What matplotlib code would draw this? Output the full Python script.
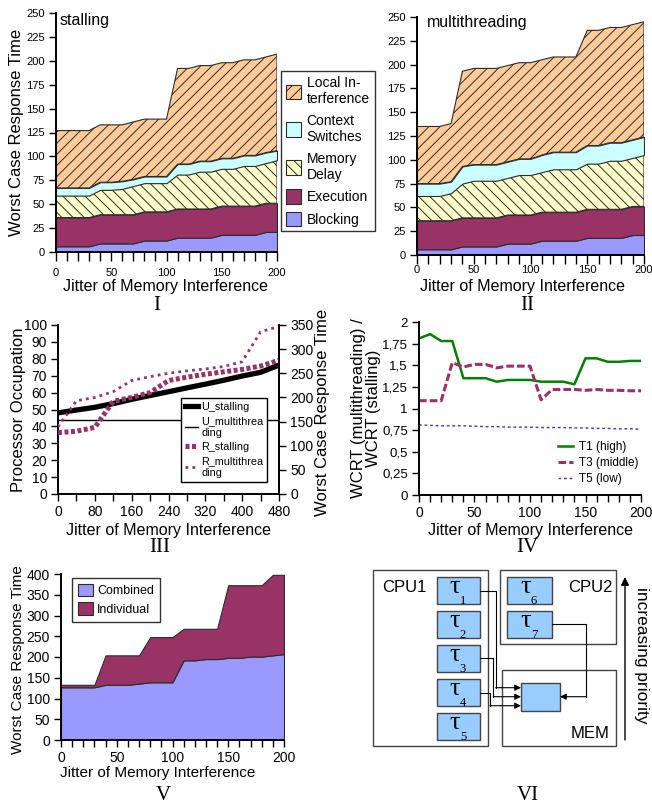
import matplotlib
matplotlib.use("Agg")
import matplotlib.pyplot as plt
from matplotlib.patches import Rectangle, Patch
from matplotlib.lines import Line2D
import numpy as np

plt.rcParams["font.family"] = ["Liberation Sans", "DejaVu Sans"]
plt.rcParams["hatch.linewidth"] = 0.7
plt.rcParams["axes.linewidth"] = 1.4

W, H = 652, 810

# ---------------- data ----------------
jitter = list(range(0, 201, 10))

# panel I: stalling
st_blocking = [6, 6, 6, 6, 9, 9, 9, 9, 12, 12, 12, 15, 15, 15, 15, 18, 18, 18, 18, 21, 21]
st_execution = [30, 30, 30, 30, 30, 30, 30, 30, 30, 30, 30, 30, 30, 30, 30, 30, 30, 30, 30, 30, 30]
st_memory = [23, 23, 23, 23, 26, 26, 27, 30, 30, 30, 30, 36, 36, 39, 39, 39, 39, 42, 42, 42, 45]
st_context = [8, 8, 8, 8, 8, 8, 8, 7, 7, 7, 7, 11, 11, 11, 11, 11, 11, 11, 11, 11, 10]
st_local = [60, 60, 60, 60, 60, 60, 59, 60, 60, 60, 60, 100, 100, 100, 100, 100, 100, 100, 100, 100, 101]

# panel II: multithreading
mt_blocking = [6, 6, 6, 6, 9, 9, 9, 9, 12, 12, 12, 15, 15, 15, 15, 18, 18, 18, 18, 21, 21]
mt_execution = [30, 30, 30, 30, 30, 30, 30, 30, 30, 30, 30, 30, 30, 30, 30, 30, 30, 30, 30, 30, 30]
mt_memory = [26, 26, 26, 29, 36, 39, 39, 39, 39, 42, 42, 42, 45, 45, 45, 48, 48, 51, 51, 51, 54]
mt_context = [13, 13, 13, 12, 18, 17, 17, 17, 17, 17, 17, 18, 18, 18, 18, 19, 19, 19, 19, 19, 19]
mt_local = [60, 60, 60, 61, 100, 101, 101, 101, 101, 101, 101, 100, 100, 100, 100, 121, 121, 121, 121, 121, 121]

layer_names = ["Blocking", "Execution", "Memory\nDelay", "Context\nSwitches", "Local In-\nterference"]

# panel III
jitter3 = [0, 40, 80, 120, 160, 200, 240, 280, 320, 360, 400, 440, 480]
u_stalling = [48, 49.7, 51.3, 53.5, 56, 58.3, 60.5, 62.8, 65, 67.3, 69.8, 72, 76.3]
u_multi = [43.5, 43.5, 43.5, 43.5, 43.5, 43.5, 43.5, 43.5, 43.5, 43.5, 43.5, 43.5, 43.5]
r_stalling = [127, 130, 138, 192, 200, 210, 235, 242, 248, 253, 258, 265, 277]
r_multi = [139, 193, 200, 212, 235, 243, 250, 255, 259, 264, 274, 336, 347]

# panel IV
t1_high = [1.81, 1.86, 1.78, 1.78, 1.35, 1.35, 1.35, 1.31, 1.33, 1.33, 1.33, 1.31, 1.31,
           1.31, 1.28, 1.58, 1.58, 1.54, 1.54, 1.55, 1.55]
t3_middle = [1.09, 1.09, 1.09, 1.53, 1.48, 1.51, 1.51, 1.47, 1.49, 1.49, 1.49, 1.10, 1.22,
             1.22, 1.22, 1.21, 1.22, 1.21, 1.21, 1.205, 1.205]
t5_low = [0.81, 0.805, 0.80, 0.80, 0.80, 0.795, 0.79, 0.79, 0.785, 0.785, 0.785, 0.78, 0.78,
          0.78, 0.775, 0.775, 0.77, 0.77, 0.765, 0.765, 0.76]

# panel V
combined = [127, 127, 127, 127, 133, 133, 133, 136, 139, 139, 139, 192, 192, 195, 195, 198, 198,
            201, 201, 204, 207]
individual = [133, 133, 133, 133, 204, 204, 204, 204, 248, 248, 248, 268, 268, 268, 268, 373, 373,
              373, 373, 398, 398]

# panel VI
cpu1_tasks = ["1", "2", "3", "4", "5"]
cpu2_tasks = ["6", "7"]

# ---------------- helpers ----------------
fig = plt.figure(figsize=(W / 100, H / 100), dpi=100)


def rect(l, t, r, b):
    return [l / W, 1 - b / H, (r - l) / W, (b - t) / H]


def put(x, y, s, **kw):
    fig.text(x / W, 1 - y / H, s, **kw)


def style(ax, sides=("left", "bottom")):
    for s in ("left", "right", "top", "bottom"):
        ax.spines[s].set_visible(s in sides)
    ax.tick_params(direction="out", length=5, width=1, colors="black", pad=3)


def jitter_ticks(ax, size):
    ax.set_xlim(0, 200)
    ax.set_xticks(jitter)
    ax.set_xticklabels([str(v) if v % 50 == 0 else "" for v in jitter], fontsize=size)


colors = ["#9999FF", "#993366", "#FFFFCC", "#CCFFFF", "#FFCC99"]
hatches = [None, None, "\\\\\\", None, "///"]


def stacked(ax, layers, xpad):
    base = np.zeros(len(jitter))
    for vals, c, h in zip(layers, colors, hatches):
        top = base + np.asarray(vals, float)
        ax.fill_between(jitter, base, top, facecolor=c, edgecolor="#2b2b2b",
                        hatch=h, linewidth=0.8)
        base = top
    ax.set_ylim(0, 250)
    ax.set_yticks(range(0, 251, 25))
    ax.tick_params(axis="y", labelsize=8)
    jitter_ticks(ax, 8)
    ax.tick_params(axis="x", length=6.5, pad=xpad)


# ---------------- panel I ----------------
ax1 = fig.add_axes(rect(56, 13, 277, 252))
style(ax1)
stacked(ax1, [st_blocking, st_execution, st_memory, st_context, st_local], 5)
put(60, 20, "stalling", fontsize=11.5, ha="left", va="center")
put(17, 132, "Worst Case Response Time", fontsize=12, rotation=90, ha="center", va="center")
put(166, 287, "Jitter of Memory Interference", fontsize=11.5, ha="center", va="center")

leg_handles = [Patch(facecolor=c, edgecolor="#2b2b2b", hatch=h, linewidth=0.8)
               for c, h in zip(colors, hatches)][::-1]
fig.legend(leg_handles, layer_names[::-1], loc="upper left",
           bbox_to_anchor=(281 / W, 1 - 71 / H), fontsize=10, frameon=True,
           fancybox=False, edgecolor="black", handlelength=1.1, handleheight=1.2,
           handletextpad=0.4, labelspacing=0.55, borderpad=0.35, borderaxespad=0)

# ---------------- panel II ----------------
ax2 = fig.add_axes(rect(417, 17, 644, 255))
style(ax2)
stacked(ax2, [mt_blocking, mt_execution, mt_memory, mt_context, mt_local], 1)
put(427, 22, "multithreading", fontsize=11.5, ha="left", va="center")
put(522, 287, "Jitter of Memory Interference", fontsize=11.5, ha="center", va="center")

# ---------------- panel III ----------------
ax3 = fig.add_axes(rect(58, 325, 279, 494))
style(ax3, ("left", "bottom", "right"))
ax3.plot(jitter3, u_stalling, color="black", lw=3.8, solid_capstyle="butt")
ax3.plot(jitter3, u_multi, color="black", lw=1.0)
ax3.set_xlim(0, 480)
ax3.set_ylim(0, 100)
ax3.set_yticks(range(0, 101, 10))
ax3.set_xticks(jitter3)
ax3.set_xticklabels([str(v) if v % 80 == 0 else "" for v in jitter3], fontsize=10)
ax3.tick_params(axis="y", labelsize=10)
ax3b = ax3.twinx()
style(ax3b, ("right",))
ax3b.plot(jitter3, r_stalling, color="#993366", lw=3.6, linestyle=(0, (0.8, 0.5)))
ax3b.plot(jitter3, r_multi, color="#993366", lw=2.0, linestyle=(0, (1, 1.5)))
ax3b.set_ylim(0, 350)
ax3b.set_yticks(range(0, 351, 50))
ax3b.tick_params(axis="y", labelsize=10)
put(19, 410, "Processor Occupation", fontsize=12, rotation=90, ha="center", va="center")
put(322, 412, "Worst Case Response Time", fontsize=12, rotation=90, ha="center", va="center")
put(168, 531, "Jitter of Memory Interference", fontsize=11.5, ha="center", va="center")

h3 = [Line2D([], [], color="black", lw=3.8),
      Line2D([], [], color="black", lw=1.0),
      Line2D([], [], color="#993366", lw=3.6, linestyle=(0, (0.8, 0.5))),
      Line2D([], [], color="#993366", lw=2.0, linestyle=(0, (1, 1.5)))]
fig.legend(h3, ["U_stalling", "U_multithrea\nding", "R_stalling", "R_multithrea\nding"],
           loc="upper left", bbox_to_anchor=(181 / W, 1 - 398 / H), fontsize=7.8,
           frameon=True, fancybox=False, edgecolor="black", framealpha=1,
           handlelength=1.2, handletextpad=0.3, labelspacing=0.4, borderpad=0.35,
           borderaxespad=0)

# ---------------- panel IV ----------------
ax4 = fig.add_axes(rect(419, 322, 641, 495))
style(ax4)
ax4.plot(jitter, t1_high, color="#008000", lw=1.8, label="T1 (high)")
ax4.plot(jitter, t3_middle, color="#993366", lw=2.2, linestyle=(0, (2.5, 1)), label="T3 (middle)")
ax4.plot(jitter, t5_low, color="#3333CC", lw=1.0, linestyle=(0, (2, 2)), label="T5 (low)")
ax4.set_ylim(0, 2)
yt4 = [0, 0.25, 0.5, 0.75, 1, 1.25, 1.5, 1.75, 2]
ax4.set_yticks(yt4)
ax4.set_yticklabels([("%g" % v).replace(".", ",") for v in yt4], fontsize=9.5)
jitter_ticks(ax4, 10)
put(366, 408, "WCRT (multithreading) /\nWCRT (stalling)", fontsize=12, rotation=90,
    ha="center", va="center", linespacing=1.0)
put(530, 531, "Jitter of Memory Interference", fontsize=11.5, ha="center", va="center")
ax4.legend(loc="upper left", bbox_to_anchor=(553 / W, 1 - 436 / H),
           bbox_transform=fig.transFigure, fontsize=8.5, frameon=False,
           handlelength=1.3, handletextpad=0.5, labelspacing=0.35, borderaxespad=0)

# ---------------- panel V ----------------
ax5 = fig.add_axes(rect(61, 574, 284, 740))
style(ax5)
ax5.fill_between(jitter, 0, combined, facecolor="#9999FF", edgecolor="#2b2b2b", lw=0.8,
                 label="Combined")
ax5.fill_between(jitter, combined, individual, facecolor="#993366", edgecolor="#2b2b2b",
                 lw=0.8, label="Individual")
ax5.set_ylim(0, 400)
ax5.set_yticks(range(0, 401, 50))
ax5.tick_params(axis="y", labelsize=10)
jitter_ticks(ax5, 10)
put(18, 660, "Worst Case Response Time", fontsize=11, rotation=90, ha="center", va="center")
put(158, 773, "Jitter of Memory Interference", fontsize=11, ha="center", va="center")
ax5.legend(loc="upper left", bbox_to_anchor=(72 / W, 1 - 578 / H),
           bbox_transform=fig.transFigure, fontsize=9, frameon=True, fancybox=False,
           edgecolor="black", handlelength=1.2, handleheight=1.2, handletextpad=0.35,
           labelspacing=0.4, borderpad=0.45, borderaxespad=0)

# ---------------- panel VI (diagram) ----------------
ax6 = fig.add_axes(rect(360, 560, 652, 810))
ax6.set_xlim(360, 652)
ax6.set_ylim(810, 560)
ax6.axis("off")

box_edge = "#444444"
task_fill = "#99CCFF"
for (l, t, r, b) in [(373, 570, 488, 746), (500, 570, 616, 644), (502, 670, 616, 746)]:
    ax6.add_patch(Rectangle((l, t), r - l, b - t, facecolor="white", edgecolor=box_edge, lw=1))

task_tops1 = [577, 611, 645, 679, 713]
for name, top in zip(cpu1_tasks, task_tops1):
    ax6.add_patch(Rectangle((437, top), 43, 27, facecolor=task_fill, edgecolor=box_edge, lw=1))
    ax6.text(455, top + 16, "\u03c4", family="Liberation Serif", fontsize=19,
             ha="center", va="baseline")
    ax6.text(463, top + 27, name, family="Liberation Serif", fontsize=9,
             ha="center", va="baseline")
for name, top in zip(cpu2_tasks, task_tops1[:2]):
    ax6.add_patch(Rectangle((507, top), 45, 27, facecolor=task_fill, edgecolor=box_edge, lw=1))
    ax6.text(526, top + 16, "\u03c4", family="Liberation Serif", fontsize=19,
             ha="center", va="baseline")
    ax6.text(534, top + 27, name, family="Liberation Serif", fontsize=9,
             ha="center", va="baseline")
ax6.add_patch(Rectangle((521, 683), 39, 28, facecolor=task_fill, edgecolor=box_edge, lw=1))

ax6.text(382, 587, "CPU1", fontsize=12, ha="left", va="center")
ax6.text(613, 587, "CPU2", fontsize=12, ha="right", va="center")
ax6.text(610, 734, "MEM", fontsize=12, ha="right", va="center")

arrow_kw = dict(arrowstyle="-|>", color="black", lw=0.8, mutation_scale=9,
                shrinkA=0, shrinkB=0)
links = [((480, 591), 495.7, 687.7, 521), ((480, 658), 493.3, 696.7, 521),
         ((480, 692.5), 490, 705.7, 521), ((552, 624), 586, 696.7, 560)]
for (x0, y0), xm, y1, x1 in links:
    ax6.plot([x0, xm, xm], [y0, y0, y1], color="black", lw=0.8)
    ax6.annotate("", xy=(x1, y1), xytext=(xm, y1), arrowprops=arrow_kw)

ax6.annotate("", xy=(625, 577), xytext=(625, 740),
             arrowprops=dict(arrowstyle="-|>", color="black", lw=1, mutation_scale=12,
                             shrinkA=0, shrinkB=0))
ax6.text(641, 655, "increasing priority", fontsize=12.5, rotation=-90,
         ha="center", va="center")

# ---------------- panel numerals ----------------
for x, y, s in [(157, 305, "I"), (527, 305, "II"), (160, 548, "III"), (527, 548, "IV"),
                (163, 796, "V"), (528, 796, "VI")]:
    put(x, y, s, family="Liberation Serif", fontsize=15, ha="center", va="center")

fig.savefig("out.png", dpi=100)
